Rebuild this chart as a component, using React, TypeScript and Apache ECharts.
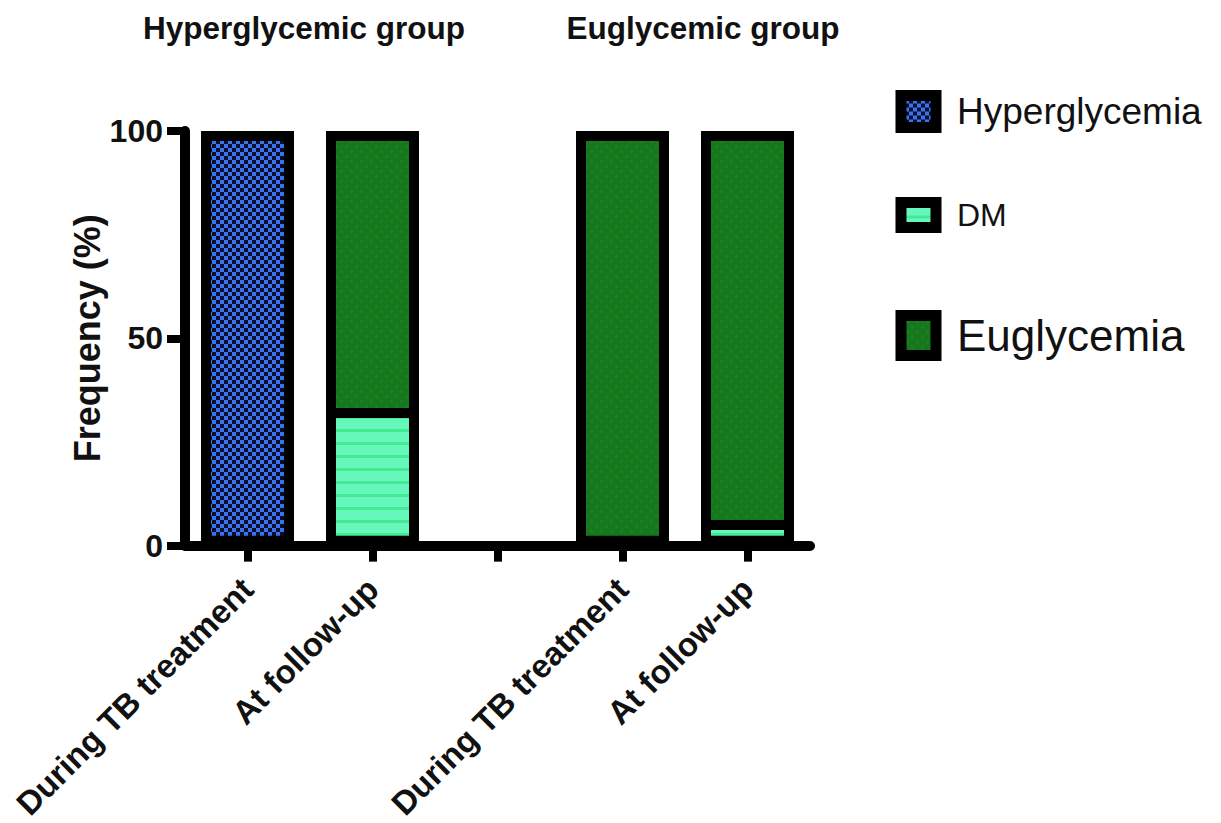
import React, { useEffect, useRef } from 'react';
import * as echarts from 'echarts';

const categories = ['During TB treatment', 'At follow-up', '', 'During TB treatment', 'At follow-up'];
const seriesNames = ['Hyperglycemia', 'DM', 'Euglycemia'];
const hyperglycemia: (number | string)[] = [100, '-', '-', '-', '-'];
const dm: (number | string)[] = ['-', 32, '-', '-', 5];
const euglycemia: (number | string)[] = ['-', 68, '-', 100, 95];
const yMin = 0;
const yMax = 100;
const yInterval = 50;
const groupTitles = ['Hyperglycemic group', 'Euglycemic group'];

const FONT = '"Liberation Sans", Arial, Helvetica, sans-serif';

function makePattern(w: number, h: number, draw: (ctx: CanvasRenderingContext2D) => void) {
  const c = document.createElement('canvas');
  c.width = w;
  c.height = h;
  const ctx = c.getContext('2d') as CanvasRenderingContext2D;
  draw(ctx);
  return { image: c, repeat: 'repeat' };
}

export default function App() {
  const ref = useRef<HTMLDivElement>(null);

  useEffect(() => {
    document.body.style.margin = '0';
    if (!ref.current) return;
    const chart = echarts.init(ref.current, undefined, { renderer: 'svg' });

    const hyperPattern = makePattern(8, 8, (ctx) => {
      ctx.fillStyle = '#0a0f2e';
      ctx.fillRect(0, 0, 8, 8);
      ctx.fillStyle = '#3b72ee';
      ctx.fillRect(0, 0, 4, 4);
      ctx.fillRect(4, 4, 4, 4);
    });
    const dmPattern = makePattern(4, 13, (ctx) => {
      ctx.fillStyle = '#66f7bd';
      ctx.fillRect(0, 0, 4, 13);
      ctx.fillStyle = '#42ea94';
      ctx.fillRect(0, 0, 4, 3);
    });
    const euPattern = makePattern(10, 10, (ctx) => {
      ctx.fillStyle = '#15791a';
      ctx.fillRect(0, 0, 10, 10);
      ctx.fillStyle = '#1d7b34';
      ctx.fillRect(0, 0, 3, 3);
      ctx.fillRect(5, 5, 3, 3);
    });

    // outline of each whole bar, built from the segment arrays
    const totals = categories.map((_, i) => {
      const vals = [hyperglycemia[i], dm[i], euglycemia[i]].filter((v) => typeof v === 'number') as number[];
      return vals.length ? vals.reduce((a, b) => a + b, 0) : '-';
    });

    const barCommon = {
      type: 'bar',
      stack: 'total',
      barWidth: 93,
      itemStyle: { borderColor: '#000', borderWidth: 5 },
    };

    const legendBase = {
      orient: 'vertical',
      left: 895.5,
      padding: 0,
      selectedMode: false,
      icon: 'rect',
      itemWidth: 35,
      itemStyle: { borderColor: '#000', borderWidth: 11 },
    };

    chart.setOption({
      animation: false,
      backgroundColor: '#fff',
      grid: { left: 185, top: 131, width: 625, height: 418 },
      legend: [
        {
          ...legendBase,
          top: 89.5,
          itemHeight: 32,
          data: [seriesNames[0]],
          textStyle: { fontFamily: FONT, fontSize: 37, lineHeight: 44, color: '#111', padding: [0, 0, 0, 16] },
        },
        {
          ...legendBase,
          top: 197,
          itemHeight: 25,
          data: [seriesNames[1]],
          textStyle: { fontFamily: FONT, fontSize: 32, lineHeight: 36, color: '#111', padding: [0, 0, 0, 16] },
        },
        {
          ...legendBase,
          top: 309.5,
          itemHeight: 40,
          data: [seriesNames[2]],
          textStyle: { fontFamily: FONT, fontSize: 44, lineHeight: 52, color: '#111', padding: [0, 0, 0, 16] },
        },
      ],
      graphic: [
        {
          type: 'text',
          x: 304,
          y: 28,
          style: {
            text: groupTitles[0],
            fontFamily: FONT,
            fontWeight: 'bold',
            fontSize: 31.5,
            fill: '#111',
            textAlign: 'center',
            textVerticalAlign: 'middle',
          },
        },
        {
          type: 'text',
          x: 703,
          y: 28,
          style: {
            text: groupTitles[1],
            fontFamily: FONT,
            fontWeight: 'bold',
            fontSize: 31.5,
            fill: '#111',
            textAlign: 'center',
            textVerticalAlign: 'middle',
          },
        },
      ],
      xAxis: {
        type: 'category',
        data: categories,
        z: 5,
        axisLine: { lineStyle: { color: '#000', width: 10 } },
        axisTick: { show: true, alignWithLabel: true, interval: 0, length: 16, lineStyle: { color: '#000', width: 8 } },
        axisLabel: {
          interval: 0,
          rotate: 45,
          margin: 38,
          fontFamily: FONT,
          fontWeight: 'bold',
          fontSize: 33,
          color: '#111',
        },
        splitLine: { show: false },
      },
      yAxis: {
        type: 'value',
        min: yMin,
        max: yMax,
        interval: yInterval,
        name: 'Frequency (%)',
        nameLocation: 'middle',
        nameGap: 80,
        nameMoveOverlap: false,
        nameRotate: 90,
        nameTextStyle: { fontFamily: FONT, fontWeight: 'bold', fontSize: 36, color: '#111' },
        axisLine: { show: true, lineStyle: { color: '#000', width: 10 } },
        axisTick: { show: true, length: 18, lineStyle: { color: '#000', width: 8 } },
        axisLabel: { margin: 22, fontFamily: FONT, fontWeight: 'bold', fontSize: 32, color: '#111' },
        splitLine: { show: false },
      },
      series: [
        { ...barCommon, name: seriesNames[0], data: hyperglycemia, itemStyle: { ...barCommon.itemStyle, color: hyperPattern } },
        { ...barCommon, name: seriesNames[1], data: dm, itemStyle: { ...barCommon.itemStyle, color: dmPattern } },
        { ...barCommon, name: seriesNames[2], data: euglycemia, itemStyle: { ...barCommon.itemStyle, color: euPattern } },
        {
          type: 'bar',
          name: 'outline',
          data: totals,
          barWidth: 93,
          barGap: '-100%',
          silent: true,
          z: 3,
          itemStyle: { color: 'rgba(0,0,0,0)', borderColor: '#000', borderWidth: 10 },
        },
      ],
    });

    return () => chart.dispose();
  }, []);

  return <div ref={ref} style={{ width: 1221, height: 823 }} />;
}
